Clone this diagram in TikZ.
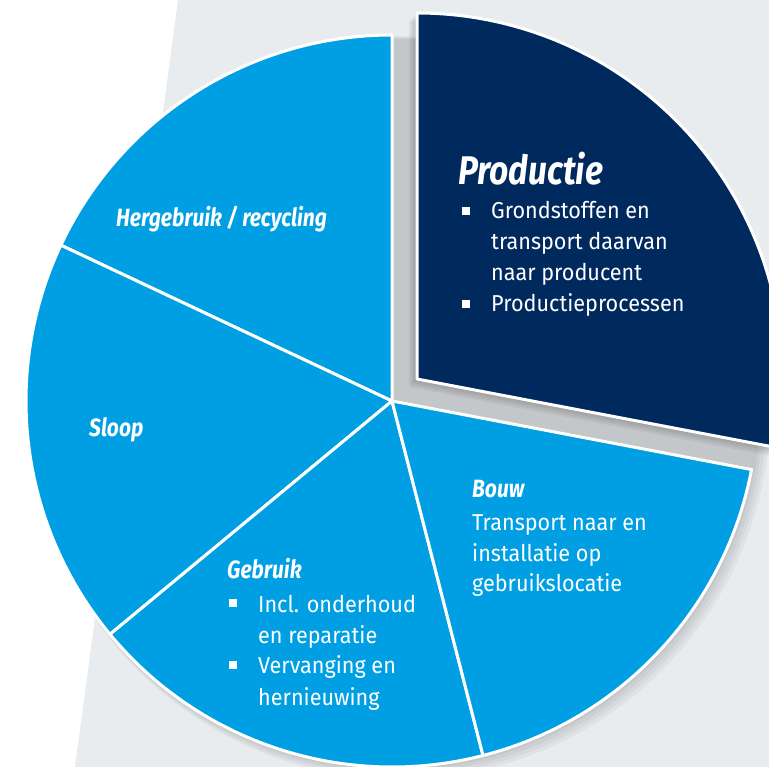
\documentclass[tikz,border=0pt]{standalone}
\usepackage{fontspec}
\setmainfont{Fira Sans}
\newfontfamily\bodyfont{Fira Sans}[FakeStretch=0.94]
\newfontfamily\headfont{Fira Sans}[FakeStretch=0.84]
\usetikzlibrary{positioning}
\definecolor{pieblue}{RGB}{0,159,227}
\definecolor{pienavy}{RGB}{0,42,94}
\definecolor{bggray}{RGB}{232,236,238}

\begin{document}
\begin{tikzpicture}[x=1pt,y=-1pt,
  sector/.style={fill=pieblue, draw=white, line width=3pt, line join=round},
  head/.style={anchor=base west, inner sep=0pt, text=white, font=\headfont\bfseries\itshape\fontsize{25}{25}\selectfont},
  body/.style={anchor=base west, inner sep=0pt, text=white, font=\bodyfont\fontsize{23}{30}\selectfont},
  bullet/.style={fill=white, minimum size=8.5pt, inner sep=0pt}]
\useasboundingbox (0,0) rectangle (769,767);
\clip (0,0) rectangle (769,767);

%Shape: background band
\fill [bggray] (178,0) -- (769,0) -- (769,767) -- (75,767) -- cycle ;

%Shape: soft shadow of the pie
\foreach \s in {2,4,6,8}
  \fill [black, opacity=0.04] (392+\s,401+\s) circle (366+\s/2) ;
%Shape: soft shadow of the loose slice
\foreach \s in {2,4,6,8}
  \fill [black, opacity=0.05] (417-\s,379+\s) -- ++(10.8:366) arc[start angle=10.8, end angle=-90, radius=366] -- cycle ;

%Shape: Sector Hergebruik
\draw [sector] (392,401) -- ++(-90:366) arc[start angle=-90, end angle=-154.8, radius=366] -- cycle ;
%Shape: Sector Sloop
\draw [sector] (392,401) -- ++(-154.8:366) arc[start angle=-154.8, end angle=-219.6, radius=366] -- cycle ;
%Shape: Sector Gebruik
\draw [sector] (392,401) -- ++(-219.6:366) arc[start angle=-219.6, end angle=-284.4, radius=366] -- cycle ;
%Shape: Sector Bouw
\draw [sector] (392,401) -- ++(-284.4:366) arc[start angle=-284.4, end angle=-349.2, radius=366] -- cycle ;
%Shape: Sector Productie
\draw [sector, fill=pienavy] (417,379) -- ++(10.8:366) arc[start angle=10.8, end angle=-90, radius=366] -- cycle ;

% Text Node
\node [head] (hergebruik) at (116,227) {Hergebruik / recycling};
% Text Node
\node [head] (sloop) at (89,436) {Sloop};

% Text Node
\node [head, font=\headfont\bfseries\itshape\fontsize{40}{40}\selectfont] (productie) at (458,185) {Productie};
\node [bullet] (pb1) at (466,211) {};
\node [body] (p1) at (491,219) {Grondstoffen en};
\node [body] (p2) at (491,250) {transport daarvan};
\node [body] (p3) at (491,281) {naar producent};
\node [bullet] (pb2) at (466,304) {};
\node [body] (p4) at (491,312) {Productieprocessen};

% Text Node
\node [head] (bouw) at (472,497) {Bouw};
\node [body] (w1) at (472,530) {Transport naar en};
\node [body] (w2) at (472,561) {installatie op};
\node [body] (w3) at (472,591) {gebruikslocatie};

% Text Node
\node [head] (gebruik) at (227,578) {Gebruik};
\node [bullet] (gb1) at (233,603) {};
\node [body] (g1) at (258,612) {Incl. onderhoud};
\node [body] (g2) at (258,643) {en reparatie};
\node [bullet] (gb2) at (233,665) {};
\node [body] (g3) at (258,673) {Vervanging en};
\node [body] (g4) at (258,705) {hernieuwing};
\end{tikzpicture}
\end{document}
